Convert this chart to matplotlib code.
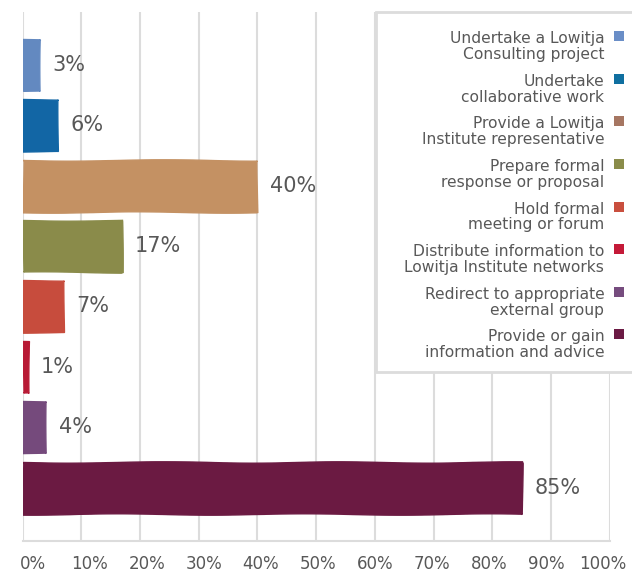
import matplotlib
import matplotlib.pyplot as plt
from matplotlib.patches import Rectangle
from matplotlib.transforms import ScaledTranslation

matplotlib.use("Agg")

# data
CATEGORIES = [
    "Undertake a Lowitja\nConsulting project",
    "Undertake\ncollaborative work",
    "Provide a Lowitja\nInstitute representative",
    "Prepare formal\nresponse or proposal",
    "Hold formal\nmeeting or forum",
    "Distribute information to\nLowitja Institute networks",
    "Redirect to appropriate\nexternal group",
    "Provide or gain\ninformation and advice",
]
VALUES = [3, 6, 40, 17, 7, 1, 4, 85]
X_TICKS = list(range(0, 101, 10))

BAR_COLORS = ["#6389c0", "#1266a5", "#c49163", "#8a8b4a",
              "#c74c3d", "#b81a35", "#754a7c", "#6b1a42"]
LEGEND_COLORS = ["#6a8ec7", "#0f6fa0", "#a67662", "#8a8c4a",
                 "#c94f3e", "#c41a38", "#764c7e", "#6b1a44"]

W, H = 632, 573
TEXT = "#585858"
GRID = "#dcdcdc"

plt.rcParams["font.family"] = ["DejaVu Sans"]

fig = plt.figure(figsize=(W / 100, H / 100), dpi=100)
ax = fig.add_axes([22.7 / W, (H - 540.7) / H, (609.7 - 22.7) / W, (540.7 - 11.7) / H])

ypos = list(range(len(VALUES)))
bars = ax.barh(ypos, VALUES, height=0.86, color=BAR_COLORS,
               edgecolor=BAR_COLORS, linewidth=1.0, zorder=3)
for b in bars:
    # light hand-drawn wobble like the source
    b.set_sketch_params(scale=0.7, length=200, randomness=2)

for y, v in zip(ypos, VALUES):
    ax.annotate(f"{v}%", xy=(v, y), xytext=(9, 0), textcoords="offset points",
                ha="left", va="center", fontsize=15, color=TEXT, zorder=4)

ax.set_xlim(0, 100)
ax.set_ylim(len(VALUES) - 1 + 0.88, -0.88)
ax.set_yticks([])
ax.set_xticks(X_TICKS)
ax.set_xticklabels([f"{t}%" for t in X_TICKS], fontsize=12, color=TEXT)
ax.tick_params(axis="x", length=0, pad=10)
ax.grid(axis="x", color=GRID, linewidth=1.5, zorder=0)
for side in ["top", "right", "left"]:
    ax.spines[side].set_visible(False)
ax.spines["bottom"].set_color(GRID)
ax.spines["bottom"].set_linewidth(1.5)

# tick labels in the source are spread a bit narrower than the grid
for i, lab in enumerate(ax.get_xticklabels()):
    dx = 10.3 - 1.7 * i
    lab.set_transform(lab.get_transform() + ScaledTranslation(dx / 100, 0, fig.dpi_scale_trans))

# legend drawn by hand: right-aligned text, swatch on the right
fig.patches.append(Rectangle((375.7 / W, (H - 371.7) / H), (W + 10 - 375.7) / W, 360 / H,
                             transform=fig.transFigure, facecolor="white",
                             edgecolor=GRID, linewidth=2, zorder=5))
for i, (label, col) in enumerate(zip(CATEGORIES, LEGEND_COLORS)):
    y0 = 38.7 + 42.6 * i
    for j, line in enumerate(label.split("\n")):
        fig.text(604.3 / W, (H - (y0 + 15.7 * j)) / H, line, ha="right", va="center",
                 fontsize=11.2, color=TEXT, zorder=6)
    fig.patches.append(Rectangle((614 / W, (H - (y0 - 2.5) - 5) / H), 10 / W, 10 / H,
                                 transform=fig.transFigure, facecolor=col,
                                 edgecolor="none", zorder=6))

fig.savefig("out.png", dpi=100)
